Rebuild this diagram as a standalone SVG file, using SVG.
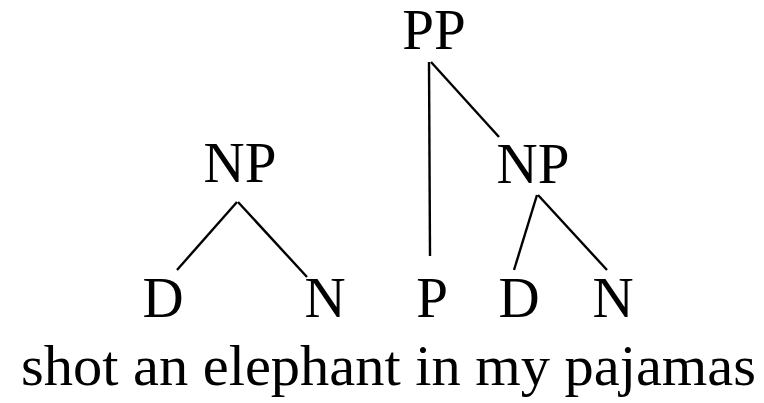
<svg xmlns="http://www.w3.org/2000/svg" width="764" height="403" viewBox="0 0 764 403">
<style>
text{font-family:"Liberation Serif","Times New Roman",serif;font-size:57px;fill:#000;text-anchor:middle}
.e line{stroke:#000;stroke-width:2.4;stroke-linecap:butt}
</style>
<rect width="764" height="403" fill="#fff"/>
<g class="e" id="connectors">
<line x1="429" y1="62" x2="430" y2="256"/>
<line x1="431" y1="62" x2="499" y2="137"/>
<line x1="237" y1="202" x2="177" y2="270"/>
<line x1="238" y1="202" x2="307" y2="277"/>
<line x1="537" y1="195" x2="514" y2="270"/>
<line x1="538" y1="195" x2="607" y2="270"/>
</g>
<g id="pp"><text x="434" y="49">PP</text></g>
<g id="np1"><text x="240" y="182">NP</text></g>
<g id="np2"><text x="533" y="183">NP</text></g>
<g id="d1"><text x="163" y="317">D</text></g>
<g id="n1"><text x="325" y="317">N</text></g>
<g id="p"><text x="432" y="317">P</text></g>
<g id="d2"><text x="519" y="317">D</text></g>
<g id="n2"><text x="613" y="317">N</text></g>
<g id="sentence"><text x="388.5" y="385" font-size="59" textLength="735" lengthAdjust="spacingAndGlyphs">shot an elephant in my pajamas</text></g>
</svg>
